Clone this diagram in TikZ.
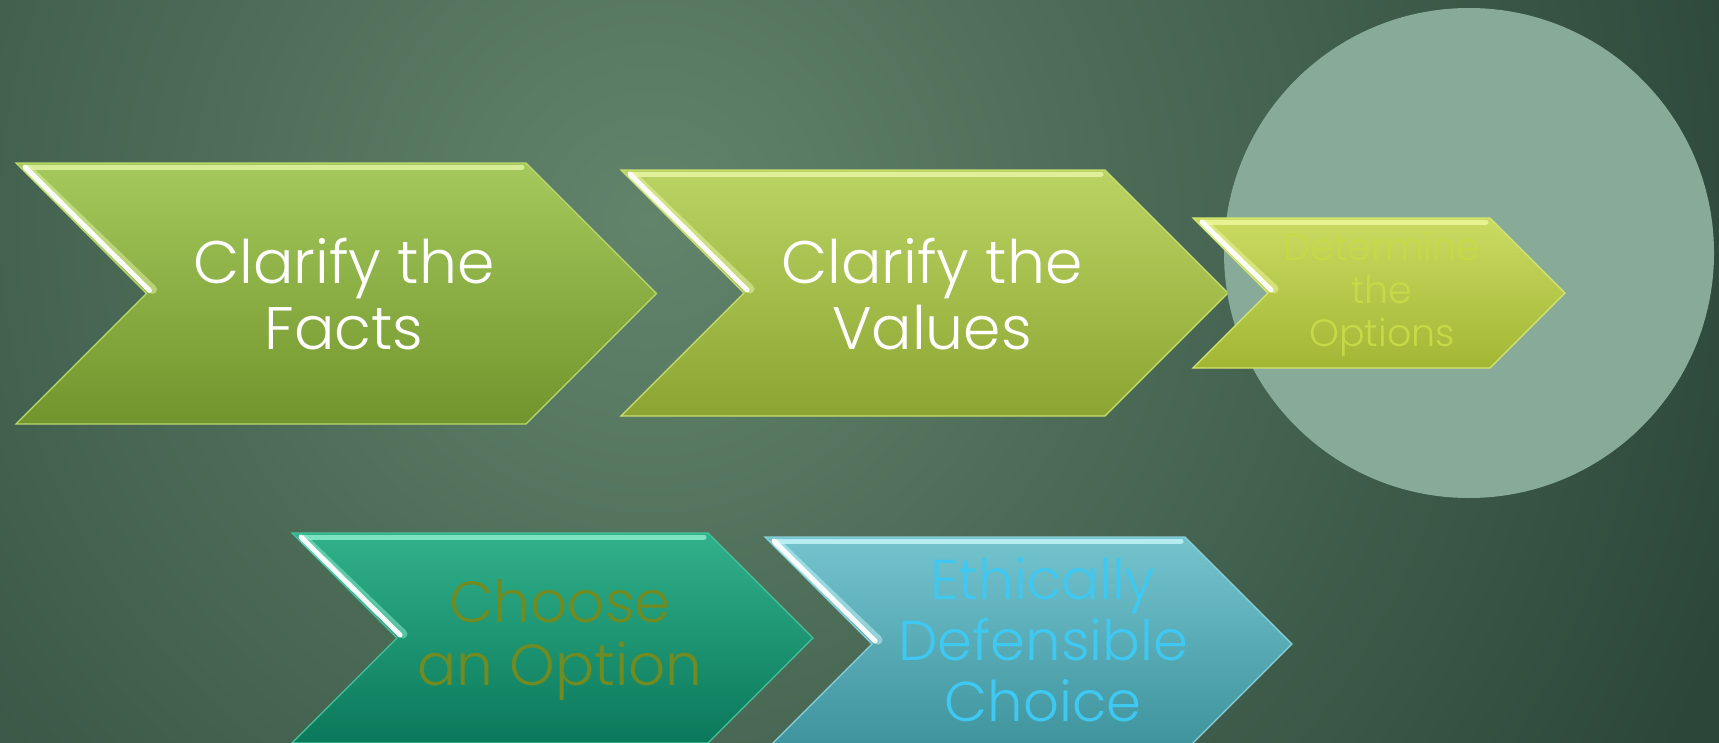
\documentclass[tikz,border=0pt]{standalone}
\usepackage{fontspec}
\newfontfamily\pop{Poppins Light}
\definecolor{bglight}{HTML}{62846B}
\definecolor{bgdark}{HTML}{2C473A}
\definecolor{circfill}{HTML}{87AB98}
\definecolor{aTop}{HTML}{A5C95C}
\definecolor{aBot}{HTML}{71942C}
\definecolor{aEdge}{HTML}{B8DB6A}
\definecolor{aHi}{HTML}{E4F5A6}
\definecolor{bTop}{HTML}{BAD362}
\definecolor{bBot}{HTML}{8CA532}
\definecolor{bEdge}{HTML}{C8E070}
\definecolor{bHi}{HTML}{ECF7A8}
\definecolor{cTop}{HTML}{CADB62}
\definecolor{cBot}{HTML}{A3B634}
\definecolor{cEdge}{HTML}{D6E670}
\definecolor{cHi}{HTML}{F2F8A0}
\definecolor{dTop}{HTML}{31B18B}
\definecolor{dBot}{HTML}{0A785A}
\definecolor{dEdge}{HTML}{45C49C}
\definecolor{dHi}{HTML}{90F0D0}
\definecolor{eTop}{HTML}{74C4CE}
\definecolor{eBot}{HTML}{3D929C}
\definecolor{eEdge}{HTML}{88D2DA}
\definecolor{eHi}{HTML}{C8F8FC}
\definecolor{txtC}{HTML}{C6DA48}
\definecolor{txtD}{HTML}{6F8B22}
\definecolor{txtE}{HTML}{3FC8F2}
\tikzset{
  x=1pt, y=-1pt,
  lbl/.style={align=center, inner sep=0pt, font=\pop\fontsize{60}{66}\selectfont},
}
\newcommand\mychev[6]{%
  \pgfmathsetmacro\cm{(#2+#3)/2}%
  \pgfmathsetmacro\cd{(#3-#2)/2}%
  \pgfmathsetmacro\ctip{#4+\cd}%
  \pgfmathsetmacro\cnotch{#1+\cd}%
  \shade[top color=#5Top, bottom color=#5Bot, draw=#5Edge, line width=1.2pt]
    (#1,#2) -- (#4,#2) -- (\ctip,\cm) -- (#4,#3) -- (#1,#3) -- (\cnotch,\cm) -- cycle;
  \draw[#5Hi, line width=5pt, opacity=0.8, line cap=round]
    ({#1+12},{#2+4}) -- ({#4-4},{#2+4});
  \draw[#5Hi, line width=9pt, opacity=0.5, line cap=round]
    ({#1+12},{#2+6}) -- ({\cnotch+6},{\cm-4});
  \draw[white, line width=5pt, opacity=0.95, line cap=round]
    ({#1+9},{#2+4}) -- ({\cnotch+3},{\cm-3});
}
\begin{document}
\begin{tikzpicture}
\useasboundingbox (0,0) rectangle (1719,742);
\clip (0,0) rectangle (1719,742);
% background
\shade[inner color=bglight, outer color=bgdark] (-500,-930) rectangle (1800,1370);
% top row
\mychev{16}{163}{424}{526}{a}{}
\mychev{621}{170}{416}{1105}{b}{}
\fill[circfill] (1469,253) circle (245);
\mychev{1193}{218}{368}{1490}{c}{}
% bottom row
\mychev{292}{533}{743}{708}{d}{}
\mychev{765}{537}{751}{1185}{e}{}
% labels
\node[lbl, text=white] (facts) at (344,294) {Clarify the\\Facts};
\node[lbl, text=white] (values) at (932,294) {Clarify the\\Values};
\node[lbl, text=txtC, font=\pop\fontsize{38}{43}\selectfont] (options) at (1382,294) {Determine\\the\\Options};
\node[lbl, text=txtD, font=\pop\fontsize{58}{63}\selectfont] (choose) at (560,640) {Choose\\an Option};
\node[lbl, text=txtE, font=\pop\fontsize{56}{61}\selectfont] (choice) at (1043,640) {Ethically\\Defensible\\Choice};
\end{tikzpicture}
\end{document}
